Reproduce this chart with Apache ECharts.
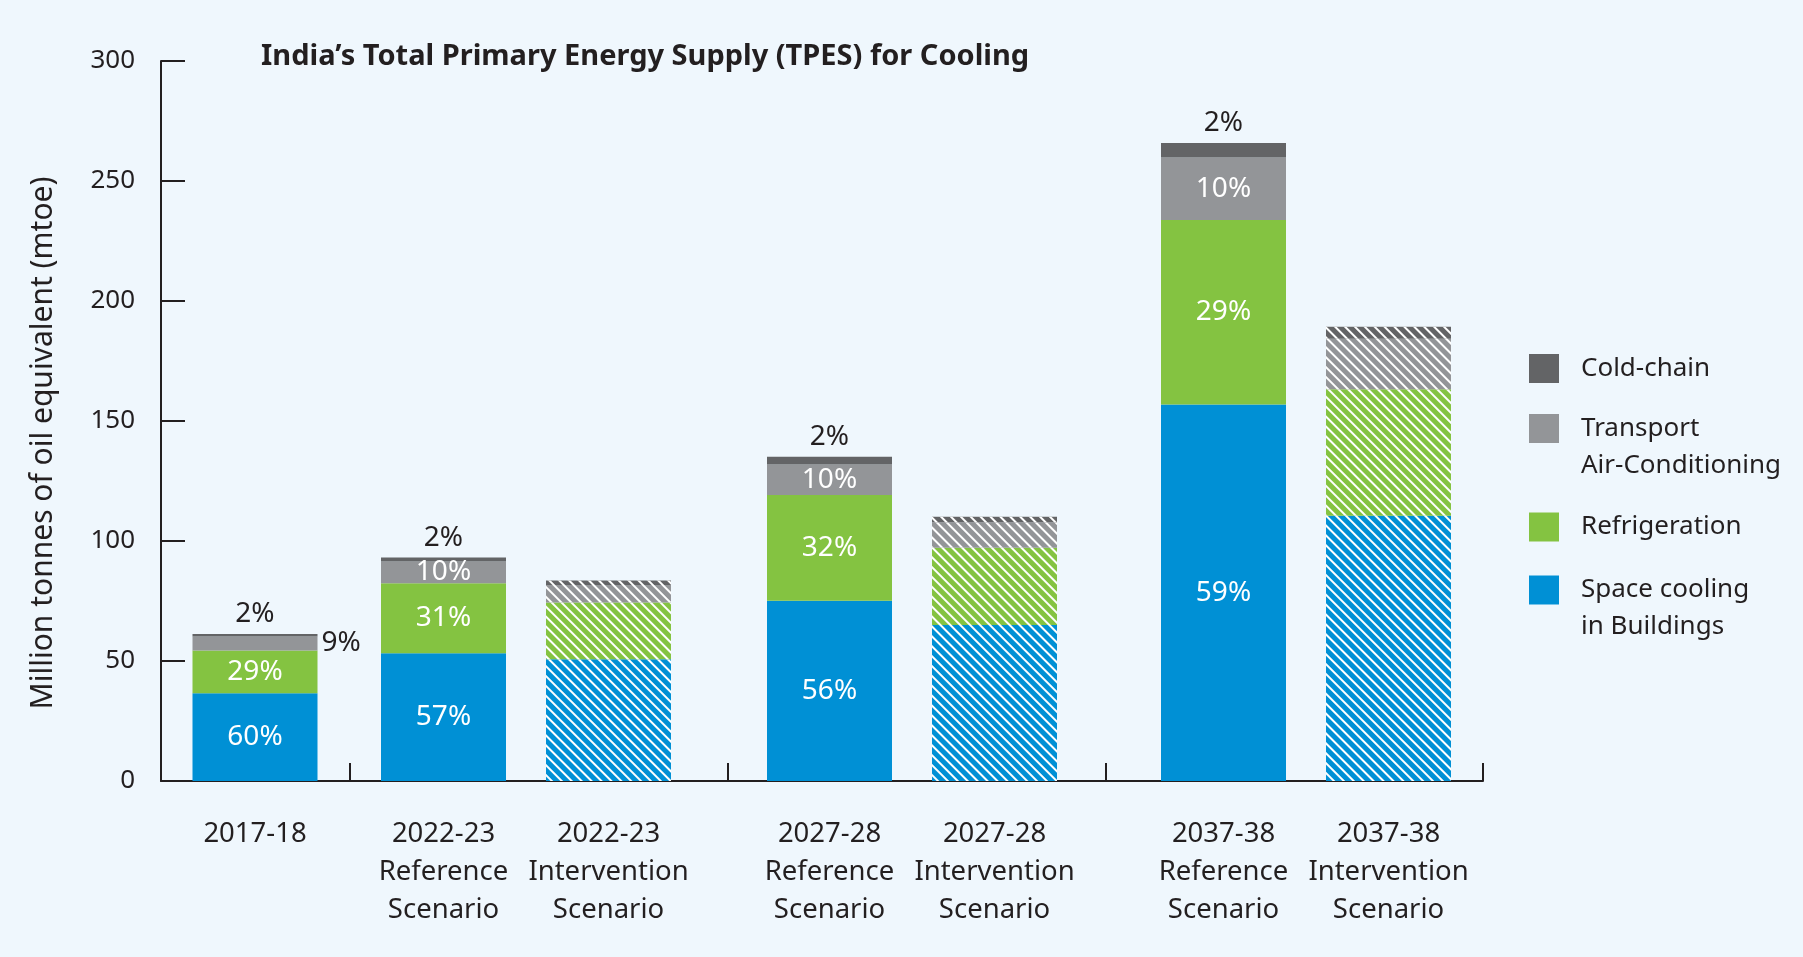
<!DOCTYPE html>
<html>
<head>
<meta charset="utf-8">
<script src="https://cdn.jsdelivr.net/npm/echarts@6/dist/echarts.min.js"></script>
<style>
html,body{margin:0;padding:0;background:#EFF7FD;}
#chart{width:1803px;height:957px;}
</style>
</head>
<body>
<div id="chart"></div>
<script>
// ---- data ----
const categories = ['2017-18', '2022-23\nReference\nScenario', '2022-23\nIntervention\nScenario',
  '2027-28\nReference\nScenario', '2027-28\nIntervention\nScenario',
  '2037-38\nReference\nScenario', '2037-38\nIntervention\nScenario'];
const isIntervention = [false, false, true, false, true, false, true];
const seriesNames = ['Space cooling\nin Buildings', 'Refrigeration', 'Transport\nAir-Conditioning', 'Cold-chain'];
const spaceCooling = [36.6, 53.2, 50.7, 75.1, 65.0, 156.9, 110.5];
const refrigeration = [17.8, 29.2, 23.7, 44.1, 32.2, 76.9, 52.7];
const transportAC = [5.8, 9.1, 7.3, 12.7, 10.6, 26.0, 21.1];
const coldChain = [1.0, 1.6, 1.8, 3.2, 2.3, 6.0, 5.0];
const spaceLabels = ['60%', '57%', '', '56%', '', '59%', ''];
const refrigLabels = ['29%', '31%', '', '32%', '', '29%', ''];
const transportLabels = ['9%', '10%', '', '10%', '', '10%', ''];
const coldLabels = ['2%', '2%', '', '2%', '', '2%', ''];
const yTicks = [0, 50, 100, 150, 200, 250, 300];
const groups = [[0, 1], [1, 3], [3, 5], [5, 7]];

// ---- styling / layout ----
const values = [spaceCooling, refrigeration, transportAC, coldChain];
const labels = [spaceLabels, refrigLabels, transportLabels, coldLabels];
const colors = ['#0090D5', '#84C341', '#939598', '#636466'];
const textColor = '#231F20';
const font = 'Noto Sans';
const gridTop = 61, gridHeight = 720;
const gridLefts = [161, 361, 747, 1141];
const gridWidths = [188, 330, 330, 330];

const decal = {
  symbol: 'rect', symbolSize: 1, dashArrayX: [1, 0], dashArrayY: [2, 4.4],
  rotation: Math.PI / 4, color: '#ffffff'
};

function labelFor(c, i) {
  const t = labels[c][i];
  if (!t) return {show: false};
  if (c === 3) {
    return {show: true, position: 'top', distance: 6, formatter: t, color: textColor, fontSize: 28, fontFamily: font};
  }
  if (c === 2 && i === 0) {
    return {show: true, position: 'right', distance: 4, formatter: t, color: textColor, fontSize: 28, fontFamily: font};
  }
  return {show: true, position: 'inside', formatter: t, color: '#ffffff', fontSize: 28, fontFamily: font};
}

const grids = [{left: 161, top: gridTop, width: 1322, height: gridHeight}];
const xAxes = [{
  gridIndex: 0, type: 'value', min: 0, max: 7,
  axisLine: {show: true, lineStyle: {color: textColor, width: 2}},
  axisTick: {show: true, inside: true, length: 18, customValues: [1, 3, 5, 7], lineStyle: {color: textColor, width: 2}},
  axisLabel: {show: false}, splitLine: {show: false}
}];
const yAxes = [{
  gridIndex: 0, type: 'value', min: 0, max: 300, interval: 50,
  axisLine: {show: true, lineStyle: {color: textColor, width: 2}},
  axisTick: {show: true, inside: true, length: 24, lineStyle: {color: textColor, width: 2}},
  axisLabel: {color: textColor, fontSize: 26, fontFamily: font, margin: 26,
    formatter: v => (yTicks.indexOf(v) >= 0 ? String(v) : '')},
  splitLine: {show: false},
  name: 'Million tonnes of oil equivalent (mtoe)', nameLocation: 'middle', nameGap: 103,
  nameTextStyle: {color: textColor, fontSize: 30, fontFamily: font, padding: [0, 44, 0, 0]}
}];
const series = [];

groups.forEach((g, gi) => {
  const idx = [];
  for (let i = g[0]; i < g[1]; i++) idx.push(i);
  grids.push({left: gridLefts[gi], top: gridTop, width: gridWidths[gi], height: gridHeight});
  xAxes.push({
    gridIndex: gi + 1, type: 'category', data: idx.map(i => categories[i]),
    axisLine: {show: false}, axisTick: {show: false},
    axisLabel: {color: textColor, fontSize: 27.5, lineHeight: 38, fontFamily: font, margin: 34, interval: 0}
  });
  yAxes.push({gridIndex: gi + 1, type: 'value', min: 0, max: 300, show: false});
  values.forEach((arr, c) => {
    series.push({
      type: 'bar', name: seriesNames[c], xAxisIndex: gi + 1, yAxisIndex: gi + 1,
      stack: 'g' + gi, barWidth: 125, silent: true,
      itemStyle: {color: colors[c]},
      emphasis: {disabled: true},
      data: idx.map(i => ({
        value: arr[i],
        itemStyle: isIntervention[i] ? {color: colors[c], decal: decal} : {color: colors[c]},
        label: labelFor(c, i)
      }))
    });
  });
});

function legendItem(name, top, twoLine) {
  return {
    data: [{name: name, icon: 'rect'}], orient: 'vertical', left: 1529, top: top,
    itemWidth: 30, itemHeight: 29, padding: 0, selectedMode: false,
    formatter: n => (twoLine ? '\n' + n : n),
    textStyle: {color: textColor, fontSize: 26, fontFamily: font, lineHeight: 37,
      padding: [0, 0, 0, 17]}
  };
}

const option = {
  backgroundColor: '#EFF7FD',
  animation: false,
  title: {
    text: 'India\u2019s Total Primary Energy Supply (TPES) for Cooling',
    left: 261, top: 39, padding: 0,
    textStyle: {color: textColor, fontSize: 29, fontWeight: 'bold', fontFamily: font, lineHeight: 36}
  },
  legend: [
    legendItem('Cold-chain', 350, false),
    legendItem('Transport\nAir-Conditioning', 373, true),
    legendItem('Refrigeration', 508.5, false),
    legendItem('Space cooling\nin Buildings', 534.5, true)
  ],
  grid: grids,
  xAxis: xAxes,
  yAxis: yAxes,
  series: series
};

const chart = echarts.init(document.getElementById('chart'));
chart.setOption(option);
</script>
</body>
</html>
